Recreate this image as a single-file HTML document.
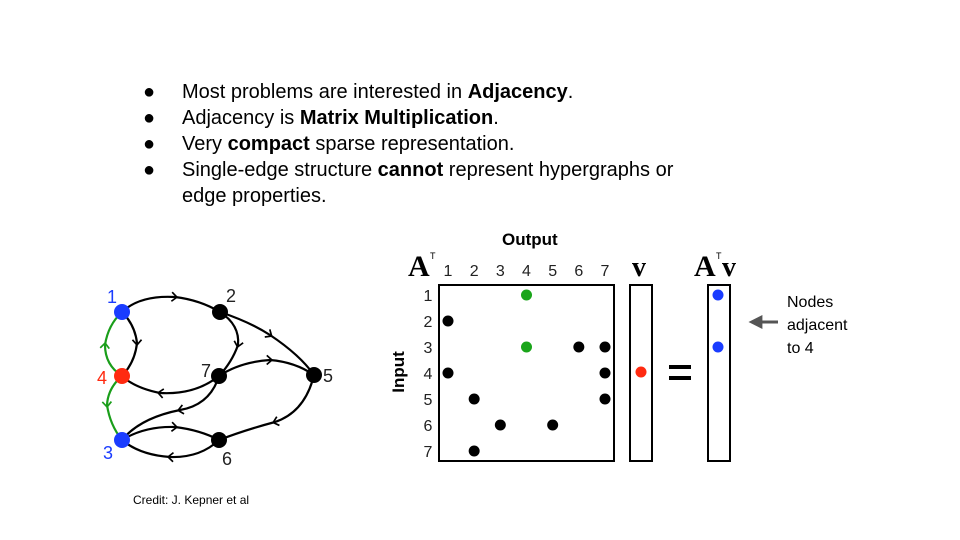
<!DOCTYPE html>
<html><head><meta charset="utf-8"><style>
body{margin:0;width:960px;height:540px;background:#fff;overflow:hidden;font-family:"Liberation Sans",sans-serif;}
svg{position:absolute;left:0;top:0}
</style></head><body>
<svg width="960" height="540" viewBox="0 0 960 540">
<defs>
<marker id="ch" viewBox="0 0 10 10" refX="5" refY="5" markerUnits="userSpaceOnUse" markerWidth="13" markerHeight="13" orient="auto"><path d="M2.5,1.5 L6.5,5 L2.5,8.5" fill="none" stroke="#000" stroke-width="1.3"/></marker>
<marker id="chg" viewBox="0 0 10 10" refX="5" refY="5" markerUnits="userSpaceOnUse" markerWidth="13" markerHeight="13" orient="auto"><path d="M2.5,1.5 L6.5,5 L2.5,8.5" fill="none" stroke="#1a9e1a" stroke-width="1.3"/></marker>
<marker id="ar" viewBox="0 0 10 10" refX="6" refY="5" markerUnits="userSpaceOnUse" markerWidth="14" markerHeight="14" orient="auto"><path d="M0,0 L10,5 L0,10z" fill="#555"/></marker>
</defs>
<g font-size="20" fill="#000">
<text x="143" y="98">●</text><text x="182" y="98">Most problems are interested in <tspan font-weight="bold">Adjacency</tspan>.</text>
<text x="143" y="124">●</text><text x="182" y="124">Adjacency is <tspan font-weight="bold">Matrix Multiplication</tspan>.</text>
<text x="143" y="150">●</text><text x="182" y="150">Very <tspan font-weight="bold">compact</tspan> sparse representation.</text>
<text x="143" y="176">●</text><text x="182" y="176">Single-edge structure <tspan font-weight="bold">cannot</tspan> represent hypergraphs or</text>
<text x="182" y="202">edge properties.</text>
</g>
<g fill="none" stroke="#000" stroke-width="2.2">
<path d="M122,312 Q140,295 175,297 Q200,300 220,312" marker-mid="url(#ch)"/>
<path d="M220,312 Q250,322 270,335 Q300,355 314,375" marker-mid="url(#ch)"/>
<path d="M220,312 Q240,325 238,345 Q232,362 219,376" marker-mid="url(#ch)"/>
<path d="M122,312 Q135,325 137,343 Q135,362 122,376" marker-mid="url(#ch)"/>
<path d="M219,376 Q240,362 270,360 Q295,362 314,375" marker-mid="url(#ch)"/>
<path d="M219,376 Q195,395 160,393 Q135,388 122,376" marker-mid="url(#ch)"/>
<path d="M219,376 Q210,405 180,410 Q140,418 122,440" marker-mid="url(#ch)"/>
<path d="M314,375 Q305,412 275,422 Q245,430 219,440" marker-mid="url(#ch)"/>
<path d="M122,440 Q145,426 175,427 Q200,430 219,440" marker-mid="url(#ch)"/>
<path d="M219,440 Q200,458 170,457 Q140,455 122,440" marker-mid="url(#ch)"/>
<path d="M122,376 Q105,365 105,345 Q108,325 122,312" stroke="#1a9e1a" marker-mid="url(#chg)"/>
<path d="M122,376 Q108,388 107,405 Q110,425 122,440" stroke="#1a9e1a" marker-mid="url(#chg)"/>
</g>
<g font-size="18">
<circle cx="122" cy="312" r="8" fill="#1a3cff"/>
<circle cx="220" cy="312" r="8" fill="#000"/>
<circle cx="122" cy="376" r="8" fill="#ff2a10"/>
<circle cx="219" cy="376" r="8" fill="#000"/>
<circle cx="314" cy="375" r="8" fill="#000"/>
<circle cx="122" cy="440" r="8" fill="#1a3cff"/>
<circle cx="219" cy="440" r="8" fill="#000"/>
<text x="107" y="303" fill="#1a3cff">1</text>
<text x="226" y="302" fill="#222">2</text>
<text x="97" y="384" fill="#ff2a10">4</text>
<text x="201" y="377" fill="#222">7</text>
<text x="323" y="382" fill="#222">5</text>
<text x="103" y="459" fill="#1a3cff">3</text>
<text x="222" y="465" fill="#222">6</text>
</g>
<text x="133" y="504" font-size="12">Credit: J. Kepner et al</text>
<g id="matrix"></g>
<text x="502" y="245" font-size="17" font-weight="bold">Output</text>
<text transform="translate(404,372) rotate(-90)" text-anchor="middle" font-size="17" font-weight="bold">Input</text>
<text x="408" y="276" font-family="Liberation Serif" font-weight="bold" font-size="30">A</text>
<text x="430" y="259" font-size="9">T</text>
<text x="632" y="276" font-family="Liberation Serif" font-weight="bold" font-size="28">v</text>
<text x="694" y="276" font-family="Liberation Serif" font-weight="bold" font-size="30">A</text>
<text x="716" y="259" font-size="9">T</text>
<text x="722" y="276" font-family="Liberation Serif" font-weight="bold" font-size="28">v</text>
<rect x="630" y="285" width="22" height="176" fill="none" stroke="#000" stroke-width="2"/>
<circle cx="641" cy="372" r="5.5" fill="#ff2a10"/>
<g><rect x="669" y="365" width="22" height="4" fill="#000"/><rect x="669" y="376" width="22" height="4" fill="#000"/></g>
<rect x="708" y="285" width="22" height="176" fill="none" stroke="#000" stroke-width="2"/>
<circle cx="718" cy="295" r="5.5" fill="#1a3cff"/>
<circle cx="718" cy="347" r="5.5" fill="#1a3cff"/>
<line x1="778" y1="322" x2="754" y2="322" stroke="#555" stroke-width="3" marker-end="url(#ar)"/>
<g font-size="16">
<text x="787" y="307">Nodes</text><text x="787" y="330">adjacent</text><text x="787" y="353">to 4</text>
</g>
</svg>
<script>
const labels=[1,2,3,4,5,6,7];
const entryRows=[1,2,3,3,3,4,4,5,5,6,6,7];
const entryCols=[4,1,4,6,7,1,7,2,7,3,5,2];
const entryColors=["g","k","g","k","k","k","k","k","k","k","k","k"];
const NS="http://www.w3.org/2000/svg";
const g=document.getElementById('matrix');
const x0=439,y0=285,w=175,h=176,n=labels.length;
const cx=c=>x0+9+(c-1)*(w-18)/(n-1);
const cy=r=>y0+10+(r-1)*(h-20)/(n-1);
function mk(t,a){const e=document.createElementNS(NS,t);for(const k in a)e.setAttribute(k,a[k]);g.appendChild(e);return e;}
const box=mk('rect',{x:x0,y:y0,width:w,height:h,fill:'none',stroke:'#000','stroke-width':2});


labels.forEach(l=>{
 const t=mk('text',{x:cx(l),y:276,'text-anchor':'middle','font-size':16,fill:'#222'});t.textContent=l;
 
 
 const r=mk('text',{x:428,y:cy(l)+6,'text-anchor':'middle','font-size':16,fill:'#222'});r.textContent=l;
 
 
});
entryRows.forEach((r,i)=>{
 const c=mk('circle',{cx:cx(entryCols[i]),cy:cy(r),r:5.5,fill:entryColors[i]==='g'?'#1aa51a':'#000'});
 
 
});
</script>
</body></html>
